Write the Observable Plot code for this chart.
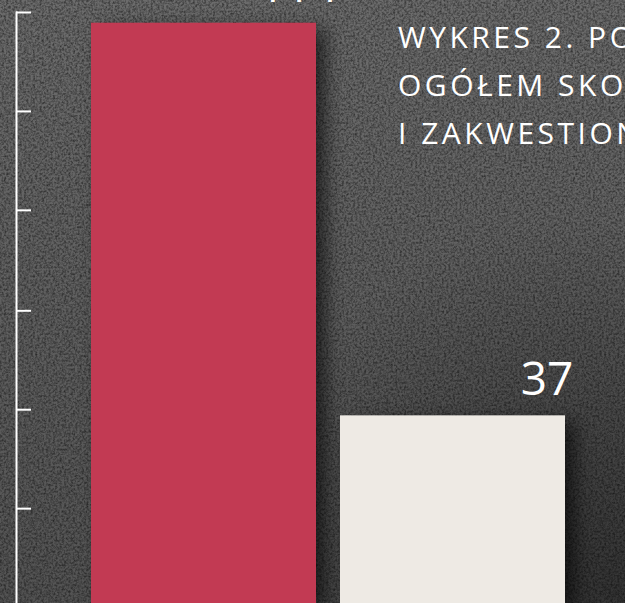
<!DOCTYPE html>
<html>
<head>
<meta charset="utf-8">
<script src="https://cdn.jsdelivr.net/npm/d3@7"></script>
<script src="https://cdn.jsdelivr.net/npm/@observablehq/plot@0.6"></script>
<style>
  html, body { margin: 0; padding: 0; }
  body {
    width: 625px; height: 603px; overflow: hidden; position: relative;
    background-color: #5a5a5a;
    background-image:
      url("data:image/svg+xml;utf8,<svg xmlns='http://www.w3.org/2000/svg' width='625' height='603'><filter id='n'><feTurbulence type='fractalNoise' baseFrequency='0.45' numOctaves='3' seed='4'/><feColorMatrix values='0 0 0 0 0  0 0 0 0 0  0 0 0 0 0  1.0 0 0 0 -0.35'/></filter><rect width='100%' height='100%' filter='url(%23n)'/></svg>"),
      radial-gradient(ellipse at 98% 98%, rgba(20,20,20,0.5), rgba(20,20,20,0) 45%),
      linear-gradient(to bottom, #6c6c6c, #5d5d5d 60%, #535353);
  }
  #chart { position: absolute; left: 0; top: 0; }
  #title {
    position: absolute; left: 398px; top: 13px; white-space: nowrap;
    color: #fff; font-family: "Open Sans", sans-serif; font-weight: 500;
    font-size: 30px; line-height: 48px; letter-spacing: 3.5px; text-transform: uppercase;
  }
</style>
</head>
<body>
<div id="chart"></div>
<div id="title">Wykres 2. Porównanie liczby<br>ogółem skontrolowanych<br>i zakwestionowanych partii</div>
<script>
const categories = ["Skontrolowane ogółem", "Zakwestionowane"];
const values = [114, 37];
const valueLabels = ["114", "37"];
const barColors = ["#C23A53", "#EEEAE4"];
const yTicks = [18.8, 38.2, 57.6, 77.3, 96.7, 116.1];

const data = categories.map((c, i) => ({cat: c, value: values[i], label: valueLabels[i]}));

const chart = Plot.plot({
  width: 625,
  height: 604,
  marginTop: 12,
  marginBottom: 0,
  marginLeft: 16,
  marginRight: 0,
  style: {background: "transparent", overflow: "visible"},
  x: {domain: categories, range: [91, 565], paddingInner: 0.0964, paddingOuter: 0, axis: null},
  y: {domain: [0, 116.1], axis: null},
  color: {domain: categories, range: barColors},
  marks: [
    Plot.frame({anchor: "left", stroke: "white", strokeWidth: 2}),
    Plot.ruleY(yTicks, {y: d => d, stroke: "white", strokeWidth: 2, insetRight: 594}),
    Plot.barY(data, {x: "cat", y: "value", fill: "cat"}),
    Plot.text(data, {x: "cat", y: "value", text: "label", dx: 94, dy: -21, lineAnchor: "bottom",
      fill: "white", fontSize: 46, fontFamily: "Open Sans, sans-serif", fontWeight: 400})
  ]
});
document.getElementById("chart").append(chart);
chart.querySelectorAll('g[aria-label="bar"]').forEach(g => {
  g.style.filter = "drop-shadow(10px 6px 9px rgba(0,0,0,0.6))";
});
</script>
</body>
</html>
